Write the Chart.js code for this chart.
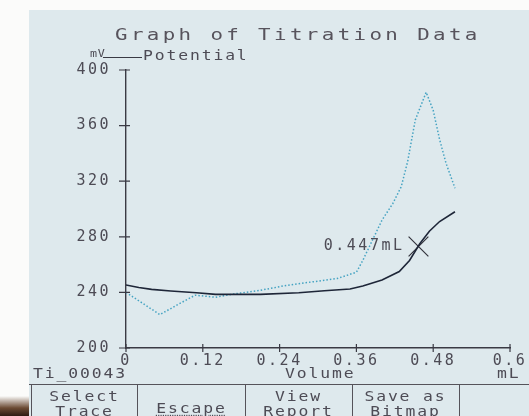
<!DOCTYPE html>
<html lang="en">
<head>
<meta charset="UTF-8">
<title>Graph of Titration Data</title>
<style>
  body { margin: 0; background: #fbfbfa; }
  #wrap { position: relative; width: 529px; height: 416px; overflow: hidden; }
  #screen { position: absolute; left: 29px; top: 10px; right: 0; bottom: 0; background: #dee9ed; }
  #corner { position: absolute; left: 0; top: 396px; width: 29px; height: 20px; background: linear-gradient(180deg, #fbfbfa 0%, #6b4a33 60%, #2e1c12 100%); }
  #myChart { position: absolute; left: 0; top: 0; }
  .lcd { position: absolute; font-family: "DejaVu Sans Mono", monospace; color: #4d4b55; white-space: nowrap;
         font-size: 14px; line-height: 14px; letter-spacing: 1.6px; transform: scaleX(1.17); transform-origin: left top; }
  #title { left: 115px; top: 27px; font-size: 16px; line-height: 16px; letter-spacing: 2.6px; transform: scaleX(1.3); color: #57535c; }
  #unit { left: 90px; top: 49px; font-size: 10px; line-height: 10px; letter-spacing: 0.5px; }
  #legLine { position: absolute; left: 103px; top: 57px; width: 39px; height: 1px; background: #3a3a44; }
  #legText { left: 143px; top: 48px; }
  .hline { position: absolute; left: 29px; right: 0; top: 384px; height: 1px; background: #55535a; }
  .vline { position: absolute; top: 384px; bottom: 0; width: 1px; background: #55535a; }
  .btn { position: absolute; top: 386px; width: 107px; }
  .btn .lcd { left: 0; width: 100%; text-align: center; transform-origin: center top; }
  #esc u { text-decoration: underline dotted; text-underline-offset: 2px; }
</style>
</head>
<body>
<div id="wrap">
  <div id="screen"></div>
  <div id="corner"></div>
  <canvas id="myChart" width="529" height="416"></canvas>
  <div class="lcd" id="title">Graph of Titration Data</div>
  <div class="lcd" id="unit">mV</div>
  <div id="legLine"></div>
  <div class="lcd" id="legText">Potential</div>
  <div class="lcd" style="left:33px; top:366px;">Ti_00043</div>
  <div class="lcd" style="left:285px; top:366px;">Volume</div>
  <div class="lcd" style="left:497px; top:366px;">mL</div>
  <div class="hline"></div>
  <div class="vline" style="left:31px"></div>
  <div class="vline" style="left:137px"></div>
  <div class="vline" style="left:245px"></div>
  <div class="vline" style="left:352px"></div>
  <div class="vline" style="left:459px"></div>
  <div class="btn" style="left:31px"><div class="lcd" style="top:3px">Select</div><div class="lcd" style="top:18px">Trace</div></div>
  <div class="btn" id="esc" style="left:138px"><div class="lcd" style="top:15px"><u>Escape</u></div></div>
  <div class="btn" style="left:245px"><div class="lcd" style="top:3px">View</div><div class="lcd" style="top:18px">Report</div></div>
  <div class="btn" style="left:352px"><div class="lcd" style="top:3px">Save as</div><div class="lcd" style="top:18px">Bitmap</div></div>
</div>

<script src="https://cdn.jsdelivr.net/npm/chart.js"></script>
<script>
// potential curve (mV vs mL)
const potVolume = [0, 0.02, 0.04, 0.07, 0.11, 0.14, 0.21, 0.27, 0.31, 0.35, 0.37, 0.40, 0.427, 0.443, 0.459, 0.474, 0.49, 0.514];
const potValue  = [245.3, 243.5, 242.2, 241, 239.8, 238.6, 238.6, 239.8, 241.2, 242.5, 244.6, 249, 255, 263, 275, 284, 291, 298];

// dotted trace
const derVolume = [0, 0.053, 0.08, 0.108, 0.14, 0.17, 0.21, 0.25, 0.29, 0.33, 0.36, 0.37, 0.385, 0.40, 0.417, 0.43, 0.44, 0.452, 0.469, 0.48, 0.49, 0.50, 0.514];
const derValue  = [240, 224, 231, 238, 236.5, 239, 241.5, 245, 247.5, 250, 254.5, 263, 277.5, 292, 304, 316, 334, 364, 384, 371, 350, 333, 315];

// endpoint marker
const endPoint = [0.457, 273];
const endPointLabel = '0.447mL';

const xTicks = [0, 0.12, 0.24, 0.36, 0.48, 0.6];
const xTickLabels = ['0', '0.12', '0.24', '0.36', '0.48', '0.6'];
const yTicks = [200, 240, 280, 320, 360, 400];

const ink = '#3a3a44';
const textInk = '#4d4b55';
const lcdFont = '"DejaVu Sans Mono", monospace';

const lcdSpacing = {
  id: 'lcdSpacing',
  beforeDraw(chart) { chart.ctx.letterSpacing = '2.5px'; }
};

const tickMarks = {
  id: 'tickMarks',
  afterDraw(chart) {
    const {ctx, chartArea, scales: {x, y}} = chart;
    ctx.save();
    ctx.strokeStyle = ink;
    ctx.lineWidth = 1.2;
    ctx.beginPath();
    x.ticks.forEach(t => {
      const px = x.getPixelForValue(t.value);
      ctx.moveTo(px, chartArea.bottom - 4);
      ctx.lineTo(px, chartArea.bottom + 4);
    });
    y.ticks.forEach(t => {
      const py = y.getPixelForValue(t.value);
      ctx.moveTo(chartArea.left - 7, py);
      ctx.lineTo(chartArea.left + 4, py);
    });
    ctx.stroke();

    // endpoint label
    const ex = x.getPixelForValue(endPoint[0]);
    const ey = y.getPixelForValue(endPoint[1]);
    ctx.font = '15px ' + lcdFont;
    ctx.letterSpacing = '2.5px';
    ctx.fillStyle = textInk;
    ctx.textAlign = 'right';
    ctx.textBaseline = 'middle';
    ctx.fillText(endPointLabel, ex - 14, ey);
    ctx.restore();
  }
};

const ctx = document.getElementById('myChart');

new Chart(ctx, {
  type: 'line',
  data: {
    datasets: [
      {
        label: 'Potential',
        data: potVolume.map((v, i) => ({x: v, y: potValue[i]})),
        borderColor: '#1e2638',
        borderWidth: 1.6,
        pointRadius: 0,
        tension: 0
      },
      {
        label: 'dE/dV',
        data: derVolume.map((v, i) => ({x: v, y: derValue[i]})),
        borderColor: '#45a3c2',
        borderWidth: 1.5,
        borderDash: [1.5, 2],
        pointRadius: 0,
        tension: 0
      },
      {
        label: 'Endpoint',
        data: [{x: endPoint[0], y: endPoint[1]}],
        showLine: false,
        pointStyle: 'crossRot',
        pointRadius: 14,
        borderColor: '#33333c',
        borderWidth: 1.2
      }
    ]
  },
  options: {
    responsive: false,
    animation: false,
    layout: { padding: { left: 60, right: 19, top: 70, bottom: 48 } },
    plugins: {
      legend: { display: false },
      title: { display: false },
      tooltip: { enabled: false }
    },
    scales: {
      x: {
        type: 'linear',
        min: 0,
        max: 0.6,
        afterFit: s => { s.height = 20; },
        afterBuildTicks: s => { s.ticks = xTicks.map(v => ({value: v})); },
        grid: { display: false },
        border: { display: true, color: ink, width: 1.4 },
        ticks: {
          padding: -4,
          maxRotation: 0,
          autoSkip: false,
          color: textInk,
          font: { family: lcdFont, size: 15 },
          callback: (v, i) => xTickLabels[i]
        }
      },
      y: {
        min: 200,
        max: 400,
        afterFit: s => { s.width = 66; },
        afterBuildTicks: s => { s.ticks = yTicks.map(v => ({value: v})); },
        grid: { display: false },
        border: { display: true, color: ink, width: 1.4 },
        ticks: {
          padding: 7,
          color: textInk,
          font: { family: lcdFont, size: 15 }
        }
      }
    }
  },
  plugins: [lcdSpacing, tickMarks]
});
</script>
</body>
</html>
